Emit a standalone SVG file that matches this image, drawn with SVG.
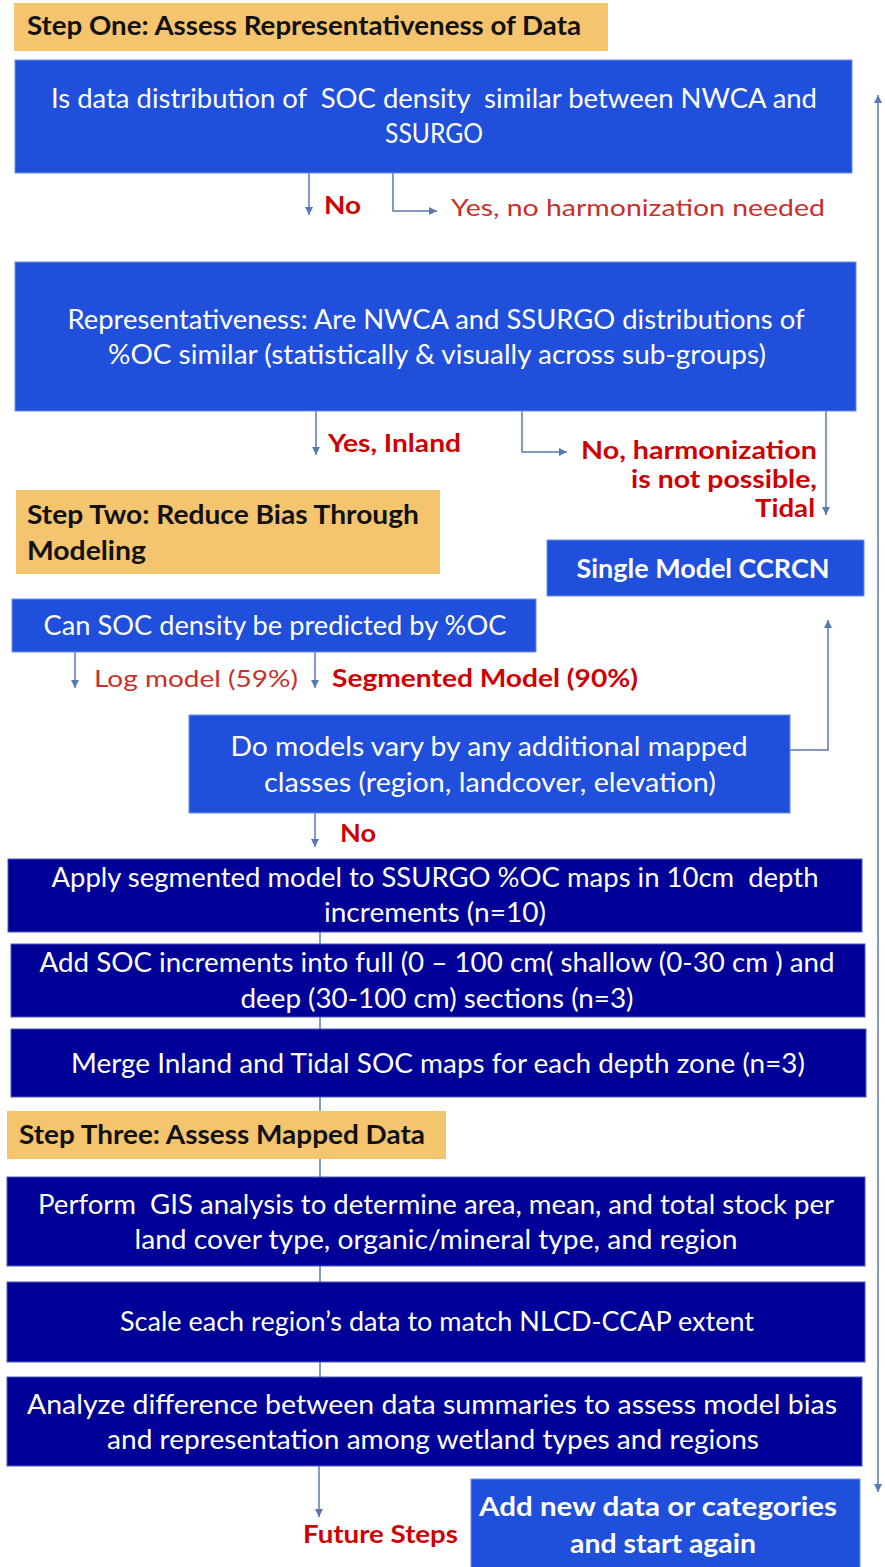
<svg xmlns="http://www.w3.org/2000/svg" width="885" height="1567" viewBox="0 0 885 1567">
<style>
.bg{fill:#ffffff}
.step{fill:#F5C46E}
.blue{fill:#1F4FDB;stroke:#6C8FE3;stroke-width:1}
.navy{fill:#000099;stroke:#4A5BB8;stroke-width:1}
.st{font-family:Lato,"Liberation Sans",sans-serif;font-weight:bold;font-size:26px;fill:#111111}
.wt{font-family:Lato,"Liberation Sans",sans-serif;font-size:26px;fill:#ffffff;text-anchor:middle}
.wb{font-family:Lato,"Liberation Sans",sans-serif;font-size:26px;font-weight:bold;fill:#ffffff;text-anchor:middle}
.rb{font-family:Lato,"Liberation Sans",sans-serif;font-size:24px;font-weight:bold;fill:#D00000}
.rn{font-family:Lato,"Liberation Sans",sans-serif;font-size:24px;fill:#C8302A}
.cn{fill:none;stroke:#5878B0;stroke-width:1.5}
</style>
<defs>
<marker id="ah" viewBox="0 0 8 8" refX="8" refY="4" markerWidth="8" markerHeight="8" markerUnits="userSpaceOnUse" orient="auto-start-reverse">
<path d="M0,0 L8,4 L0,8 z" fill="#5878B0"/>
</marker>
</defs>
<rect class="bg" x="0" y="0" width="885" height="1567"/>
<g id="connectors">
<path class="cn" d="M309,173 V215" marker-end="url(#ah)"/>
<path class="cn" d="M393,173 V211 H437" marker-end="url(#ah)"/>
<path class="cn" d="M316,411 V455" marker-end="url(#ah)"/>
<path class="cn" d="M522,411 V452 H567" marker-end="url(#ah)"/>
<path class="cn" d="M826,411 V515" marker-end="url(#ah)"/>
<path class="cn" d="M75,652 V688" marker-end="url(#ah)"/>
<path class="cn" d="M315,652 V688" marker-end="url(#ah)"/>
<path class="cn" d="M790,750 H828 V620" marker-end="url(#ah)"/>
<path class="cn" d="M315,813 V847" marker-end="url(#ah)"/>
<path class="cn" d="M320,932 V944 M320,1017 V1029 M320,1097 V1177 M320,1266 V1282 M320,1362 V1377"/>
<path class="cn" d="M319,1466 V1517" marker-end="url(#ah)"/>
<path class="cn" d="M878,95 V1492" marker-start="url(#ah)" marker-end="url(#ah)"/>
</g>
<g id="step-one">
<rect class="step" x="14" y="3" width="594" height="48"/>
<text class="st" x="27" y="35" textLength="554" lengthAdjust="spacingAndGlyphs">Step One: Assess Representativeness of Data</text>
</g>
<g id="q-distribution">
<rect class="blue" x="15" y="60" width="837" height="113"/>
<text class="wt" x="434" y="108" font-size="28" textLength="766" lengthAdjust="spacingAndGlyphs" xml:space="preserve">Is data distribution of  SOC density  similar between NWCA and</text>
<text class="wt" x="434" y="143" font-size="28" textLength="98" lengthAdjust="spacingAndGlyphs">SSURGO</text>
</g>
<g id="lbl-no1"><text class="rb" x="324" y="214" textLength="37" lengthAdjust="spacingAndGlyphs">No</text></g>
<g id="lbl-yes1"><text class="rn" x="451" y="216" textLength="374" lengthAdjust="spacingAndGlyphs">Yes, no harmonization needed</text></g>
<g id="q-representativeness">
<rect class="blue" x="15" y="262" width="841" height="149"/>
<text class="wt" x="436" y="329" font-size="25" textLength="737" lengthAdjust="spacingAndGlyphs">Representativeness: Are NWCA and SSURGO distributions of</text>
<text class="wt" x="437" y="364" font-size="25" textLength="658" lengthAdjust="spacingAndGlyphs">%OC similar (statistically &amp; visually across sub-groups)</text>
</g>
<g id="lbl-yes-inland"><text class="rb" x="328" y="452" textLength="133" lengthAdjust="spacingAndGlyphs">Yes, Inland</text></g>
<g id="lbl-no-tidal">
<text class="rb" x="817" y="459" text-anchor="end" textLength="236" lengthAdjust="spacingAndGlyphs">No, harmonization</text>
<text class="rb" x="817" y="488" text-anchor="end" textLength="186" lengthAdjust="spacingAndGlyphs">is not possible,</text>
<text class="rb" x="815" y="517" text-anchor="end" textLength="60" lengthAdjust="spacingAndGlyphs">Tidal</text>
</g>
<g id="step-two">
<rect class="step" x="16" y="490" width="424" height="84"/>
<text class="st" x="27" y="524" textLength="392" lengthAdjust="spacingAndGlyphs">Step Two: Reduce Bias Through</text>
<text class="st" x="27" y="560" textLength="119" lengthAdjust="spacingAndGlyphs">Modeling</text>
</g>
<g id="single-model">
<rect class="blue" x="547" y="540" width="317" height="56"/>
<text class="wb" x="703" y="578" textLength="253" lengthAdjust="spacingAndGlyphs">Single Model CCRCN</text>
</g>
<g id="q-predict">
<rect class="blue" x="12" y="599" width="524" height="53"/>
<text class="wt" x="275" y="635" textLength="463" lengthAdjust="spacingAndGlyphs">Can SOC density be predicted by %OC</text>
</g>
<g id="lbl-log"><text class="rn" x="94" y="687" textLength="204" lengthAdjust="spacingAndGlyphs">Log model (59%)</text></g>
<g id="lbl-seg"><text class="rb" x="332" y="687" textLength="306" lengthAdjust="spacingAndGlyphs">Segmented Model (90%)</text></g>
<g id="q-vary">
<rect class="blue" x="189" y="715" width="601" height="98"/>
<text class="wt" x="489" y="756" textLength="517" lengthAdjust="spacingAndGlyphs">Do models vary by any additional mapped</text>
<text class="wt" x="490" y="792" textLength="452" lengthAdjust="spacingAndGlyphs">classes (region, landcover, elevation)</text>
</g>
<g id="lbl-no2"><text class="rb" x="340" y="842" textLength="36" lengthAdjust="spacingAndGlyphs">No</text></g>
<g id="apply">
<rect class="navy" x="8" y="859" width="854" height="73"/>
<text class="wt" x="435" y="887" font-size="25" textLength="767" lengthAdjust="spacingAndGlyphs" xml:space="preserve">Apply segmented model to SSURGO %OC maps in 10cm  depth</text>
<text class="wt" x="435" y="922" font-size="25" textLength="222" lengthAdjust="spacingAndGlyphs">increments (n=10)</text>
</g>
<g id="add-increments">
<rect class="navy" x="11" y="944" width="854" height="73"/>
<text class="wt" x="437" y="972" font-size="25" textLength="795" lengthAdjust="spacingAndGlyphs">Add SOC increments into full (0 – 100 cm( shallow (0-30 cm ) and</text>
<text class="wt" x="437" y="1008" font-size="25" textLength="393" lengthAdjust="spacingAndGlyphs">deep (30-100 cm) sections (n=3)</text>
</g>
<g id="merge">
<rect class="navy" x="11" y="1029" width="855" height="68"/>
<text class="wt" x="438" y="1073" textLength="734" lengthAdjust="spacingAndGlyphs">Merge Inland and Tidal SOC maps for each depth zone (n=3)</text>
</g>
<g id="step-three">
<rect class="step" x="7" y="1111" width="439" height="48"/>
<text class="st" x="19" y="1144" textLength="406" lengthAdjust="spacingAndGlyphs">Step Three: Assess Mapped Data</text>
</g>
<g id="gis">
<rect class="navy" x="7" y="1177" width="858" height="89"/>
<text class="wt" x="436" y="1214" textLength="796" lengthAdjust="spacingAndGlyphs" xml:space="preserve">Perform  GIS analysis to determine area, mean, and total stock per</text>
<text class="wt" x="436" y="1249" textLength="603" lengthAdjust="spacingAndGlyphs">land cover type, organic/mineral type, and region</text>
</g>
<g id="scale">
<rect class="navy" x="7" y="1282" width="858" height="80"/>
<text class="wt" x="437" y="1331" textLength="634" lengthAdjust="spacingAndGlyphs">Scale each region’s data to match NLCD-CCAP extent</text>
</g>
<g id="analyze">
<rect class="navy" x="7" y="1377" width="855" height="89"/>
<text class="wt" x="432" y="1414" textLength="810" lengthAdjust="spacingAndGlyphs">Analyze difference between data summaries to assess model bias</text>
<text class="wt" x="433" y="1449" textLength="652" lengthAdjust="spacingAndGlyphs">and representation among wetland types and regions</text>
</g>
<g id="lbl-future"><text class="rb" x="303" y="1543" textLength="155" lengthAdjust="spacingAndGlyphs">Future Steps</text></g>
<g id="add-new-data">
<rect class="blue" x="471" y="1479" width="389" height="92"/>
<text class="wb" x="658" y="1516" font-size="27" textLength="358" lengthAdjust="spacingAndGlyphs">Add new data or categories</text>
<text class="wb" x="663" y="1553" font-size="27" textLength="186" lengthAdjust="spacingAndGlyphs">and start again</text>
</g>
</svg>
